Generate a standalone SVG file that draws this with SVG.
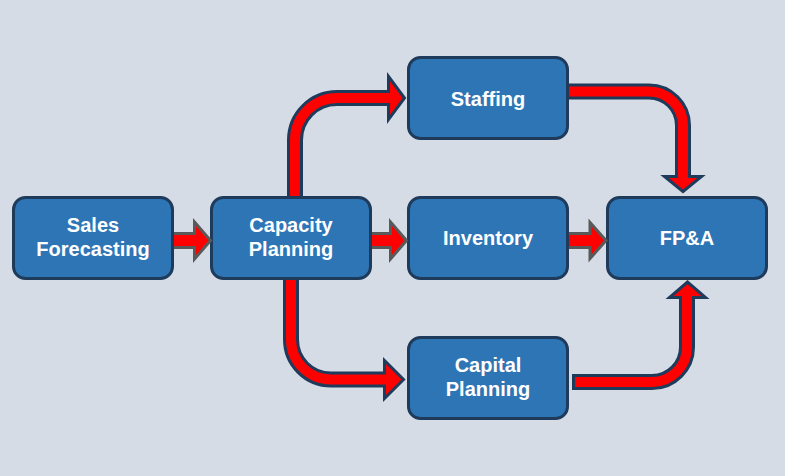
<svg xmlns="http://www.w3.org/2000/svg" width="785" height="476" viewBox="0 0 785 476">
<style>
.box{fill:#2e75b6;stroke:#1f3b5c;stroke-width:3}
.lbl{font-family:"Liberation Sans",Arial,sans-serif;font-weight:bold;font-size:20px;fill:#ffffff;text-anchor:middle}
.sa{fill:#ff0000;stroke:#595959;stroke-width:3;stroke-linejoin:miter}
.cd{fill:none;stroke:#1f3b5c;stroke-width:16}
.cr{fill:none;stroke:#ff0000;stroke-width:10}
.ch{fill:#ff0000;stroke:#1f3b5c;stroke-width:3;stroke-linejoin:miter}
</style>
<rect x="0" y="0" width="785" height="476" fill="#d6dce5"/>
<g id="sales"><rect class="box" x="13.5" y="197.5" width="159" height="81" rx="12"/><text class="lbl" x="93" y="232">Sales</text><text class="lbl" x="93" y="256">Forecasting</text></g>
<g id="capacity"><rect class="box" x="211.5" y="197.5" width="159" height="81" rx="12"/><text class="lbl" x="291" y="232">Capacity</text><text class="lbl" x="291" y="256">Planning</text></g>
<g id="staffing"><rect class="box" x="408.5" y="57.5" width="159" height="81" rx="12"/><text class="lbl" x="488" y="106">Staffing</text></g>
<g id="inventory"><rect class="box" x="408.5" y="197.5" width="159" height="81" rx="12"/><text class="lbl" x="488" y="245">Inventory</text></g>
<g id="capital"><rect class="box" x="408.5" y="337.5" width="159" height="81" rx="12"/><text class="lbl" x="488" y="372">Capital</text><text class="lbl" x="488" y="396">Planning</text></g>
<g id="fpa"><rect class="box" x="607.5" y="197.5" width="159" height="81" rx="12"/><text class="lbl" x="687" y="245">FP&amp;A</text></g>
<g id="connectors">
<path class="sa" d="M174,233.5 H194.5 V222 L210.5,240.5 L194.5,259 V247.5 H174"/>
<path class="sa" d="M372,233.5 H390.5 V222 L406.5,240.5 L390.5,259 V247.5 H372"/>
<path class="sa" d="M569,233.5 H590 V222.5 L606,240.5 L590,258.5 V247.5 H569"/>
<path class="cd" d="M295,196 V140 A42,42 0 0 1 337,98 H389"/>
<polygon class="ch" points="388.5,76.5 404.5,98 388.5,119.5"/>
<path class="cr" d="M295,196 V140 A42,42 0 0 1 337,98 H392"/>
<path class="cd" d="M569,91.5 H649 A34,34 0 0 1 683,125.5 V178"/>
<polygon class="ch" points="664.5,176.5 701.5,176.5 683,191.5"/>
<path class="cr" d="M569,91.5 H649 A34,34 0 0 1 683,125.5 V180"/>
<path class="cd" d="M291,280 V339.5 A40,40 0 0 0 331,379.5 H386"/>
<polygon class="ch" points="384.5,360.5 403.5,379.5 384.5,398.5"/>
<path class="cr" d="M291,280 V339.5 A40,40 0 0 0 331,379.5 H388"/>
<path class="cd" d="M572,382 H652 A35,35 0 0 0 687,347 V297"/>
<polygon class="ch" points="669.5,297.5 705.5,297.5 687.5,282"/>
<path class="cr" d="M575,382 H652 A35,35 0 0 0 687,347 V295"/>
</g>
</svg>
